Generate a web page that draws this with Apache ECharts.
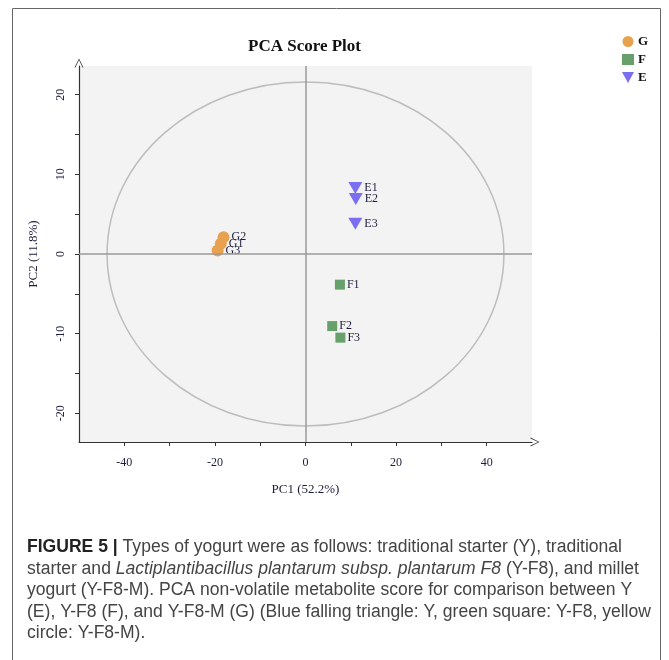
<!DOCTYPE html>
<html>
<head>
<meta charset="utf-8">
<script src="https://cdn.jsdelivr.net/npm/echarts@6/dist/echarts.min.js"></script>
<style>
html,body{margin:0;padding:0;background:#fff;}
#chart{width:669px;height:660px;}
</style>
</head>
<body>
<div id="chart"></div>
<script>
// ---- data ----
const groupNames = ['G', 'F', 'E'];
const gLabels = ['G1', 'G2', 'G3'];
const gX = [-18.7, -18.1, -19.4];
const gY = [1.3, 2.1, 0.45];
const fLabels = ['F1', 'F2', 'F3'];
const fX = [7.6, 5.9, 7.7];
const fY = [-3.85, -9.05, -10.5];
const eLabels = ['E1', 'E2', 'E3'];
const eX = [11.0, 11.1, 11.0];
const eY = [8.3, 6.9, 3.8];
const ellipse = [0, 0, 43.8, 21.6]; // centre x, centre y, semi-axis x, semi-axis y
const xTickLabels = [-40, -20, 0, 20, 40];
const xTicks = [-40, -30, -20, -10, 0, 10, 20, 30, 40];
const yTickLabels = [-20, -10, 0, 10, 20];
const yTicks = [-20, -15, -10, -5, 0, 5, 10, 15, 20];
const captionLines = [
  '{b|FIGURE 5 |} Types of yogurt were as follows: traditional starter (Y), traditional',
  'starter and {i|Lactiplantibacillus plantarum subsp. plantarum F8} (Y-F8), and millet',
  'yogurt (Y-F8-M). PCA non-volatile metabolite score for comparison between Y',
  '(E), Y-F8 (F), and Y-F8-M (G) (Blue falling triangle: Y, green square: Y-F8, yellow',
  'circle: Y-F8-M).'
];

const SERIF = '"Liberation Serif", "Times New Roman", serif';
const SANS = '"Liberation Sans", Arial, sans-serif';
const TRI = 'path://M0,0 L10,0 L5,9 Z';
const ARROW = 'path://M0,10 L5,0 L10,10 L9,10 L5,1.6 L1,10 Z';
const colors = {G: '#E8A24F', F: '#67A06A', E: '#7B6EF0'};

function pts(xs, ys, labels) {
  return xs.map((x, i) => ({value: [x, ys[i]], name: labels[i]}));
}

const chart = echarts.init(document.getElementById('chart'), null, {renderer: 'canvas'});

const captionGraphics = captionLines.map((t, i) => ({
  type: 'text',
  x: 27,
  y: 538 + i * 21.6,
  scaleX: 0.975,
  silent: true,
  style: {
    text: t,
    fill: '#444',
    font: '18px ' + SANS,
    rich: {
      b: {fontWeight: 'bold', fontSize: 18, fontFamily: SANS, fill: '#222'},
      i: {fontStyle: 'italic', fontSize: 18, fontFamily: SANS, fill: '#444'}
    }
  }
}));

const labelStyle = {
  show: true, position: 'right', distance: 2,
  formatter: p => p.name,
  fontFamily: SERIF, fontSize: 12, color: '#1c1c3c'
};

chart.setOption({
  animation: false,
  backgroundColor: '#fff',
  title: {
    text: 'PCA Score Plot',
    left: 248, top: 38, padding: 0,
    textStyle: {fontFamily: SERIF, fontSize: 17, fontWeight: 'bold', color: '#111'}
  },
  legend: {
    orient: 'vertical',
    left: 622, top: 35, padding: 0,
    itemWidth: 12, itemHeight: 11, itemGap: 5,
    textStyle: {fontFamily: SERIF, fontSize: 13, fontWeight: 'bold', color: '#111', padding: [0,0,0,-1]},
    data: [
      {name: 'G', icon: 'circle'},
      {name: 'F', icon: 'rect'},
      {name: 'E', icon: TRI}
    ]
  },
  grid: {
    left: 79, right: 137, top: 66, bottom: 218,
    show: true, backgroundColor: '#f3f3f3', borderWidth: 0
  },
  xAxis: {
    type: 'value', min: -50, max: 50,
    name: 'PC1 (52.2%)', nameLocation: 'middle', nameGap: 41,
    nameTextStyle: {fontFamily: SERIF, fontSize: 13, color: '#1c1c3c'},
    axisLine: {show: true, onZero: false, symbol: ['none', ARROW], symbolSize: [9, 12], symbolOffset: [0, 3],
      lineStyle: {color: '#333', width: 1.2}},
    axisTick: {show: true, length: 4, customValues: xTicks, lineStyle: {color: '#333'}},
    axisLabel: {customValues: xTickLabels, margin: 15, fontFamily: SERIF, fontSize: 12, color: '#1c1c3c'},
    splitLine: {show: false}
  },
  yAxis: {
    type: 'value', min: -23.6, max: 23.6,
    name: 'PC2 (11.8%)', nameLocation: 'middle', nameGap: 39, nameRotate: 90,
    nameTextStyle: {fontFamily: SERIF, fontSize: 13, color: '#1c1c3c'},
    axisLine: {show: true, onZero: false, symbol: ['none', ARROW], symbolSize: [9, 12], symbolOffset: [0, 3],
      lineStyle: {color: '#333', width: 1.2}},
    axisTick: {show: true, length: 4, customValues: yTicks, lineStyle: {color: '#333'}},
    axisLabel: {customValues: yTickLabels, rotate: 90, margin: 12, fontFamily: SERIF, fontSize: 12, color: '#1c1c3c'},
    splitLine: {show: false}
  },
  graphic: [
    {type: 'rect', silent: true, z: -1,
      shape: {x: 12.5, y: 8.5, width: 648, height: 700}, style: {fill: 'none', stroke: '#666', lineWidth: 1}},
    ...captionGraphics
  ],
  series: [
    {
      type: 'custom', name: 'ellipse', silent: true, z: 1,
      data: [ellipse],
      renderItem: function (params, api) {
        const c = api.coord([api.value(0), api.value(1)]);
        const s = api.size([api.value(2), api.value(3)]);
        return {
          type: 'ellipse',
          shape: {cx: c[0], cy: c[1], rx: s[0], ry: s[1]},
          style: {fill: 'none', stroke: '#bdbdbd', lineWidth: 1.5}
        };
      },
      markLine: {
        silent: true, symbol: 'none', label: {show: false},
        lineStyle: {color: '#9a9a9a', type: 'solid', width: 1.5},
        data: [{xAxis: 0}, {yAxis: 0}]
      }
    },
    {name: 'G', type: 'scatter', symbol: 'circle', symbolSize: 12, z: 3,
      itemStyle: {color: colors.G, opacity: 1}, label: labelStyle, data: pts(gX, gY, gLabels)},
    {name: 'F', type: 'scatter', symbol: 'rect', symbolSize: 10, z: 3,
      itemStyle: {color: colors.F, opacity: 1}, label: labelStyle, data: pts(fX, fY, fLabels)},
    {name: 'E', type: 'scatter', symbol: TRI, symbolSize: [14, 12], z: 3,
      itemStyle: {color: colors.E, opacity: 1}, label: labelStyle, data: pts(eX, eY, eLabels)}
  ]
});
</script>
</body>
</html>
